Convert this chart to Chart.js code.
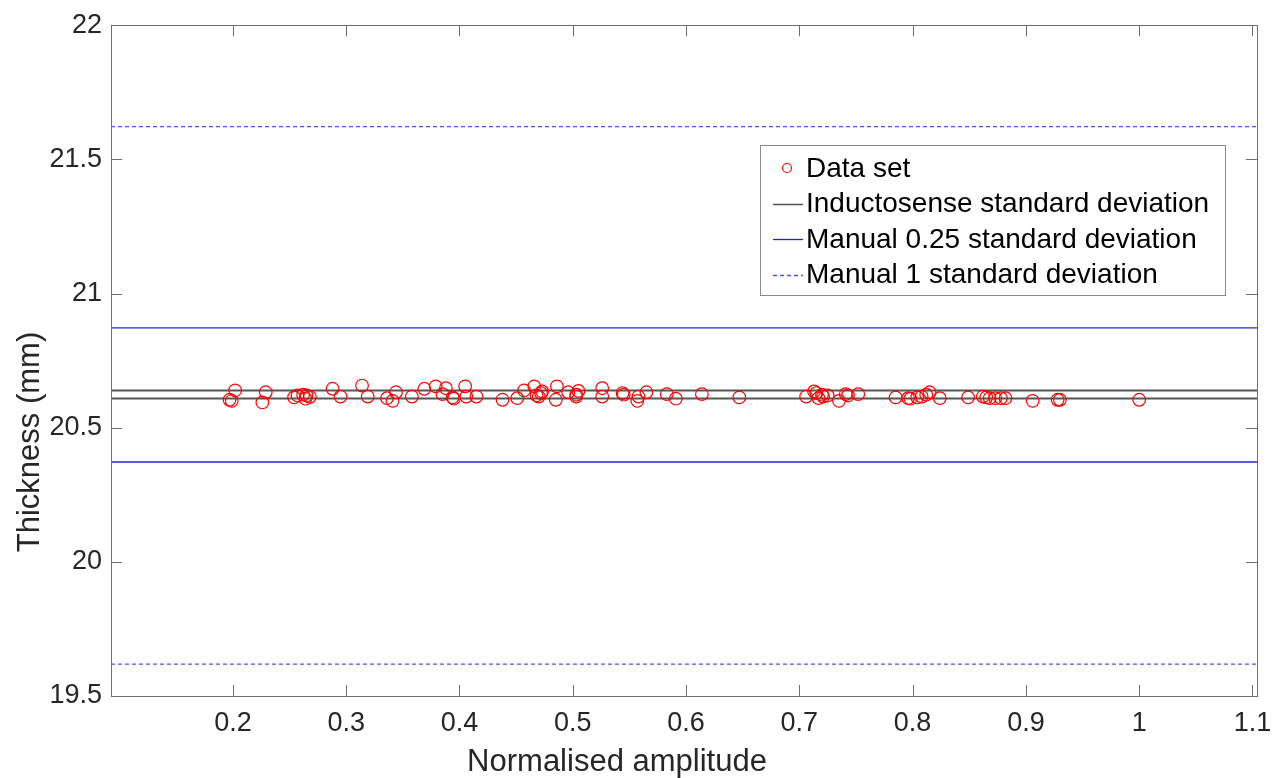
<!DOCTYPE html>
<html>
<head>
<meta charset="utf-8">
<script src="https://cdn.jsdelivr.net/npm/chart.js@4/dist/chart.umd.min.js"></script>
<style>
  html, body { margin: 0; padding: 0; background: #ffffff; }
  #wrap { width: 1285px; height: 778px; }
</style>
</head>
<body>
<div id="wrap"><canvas id="c" width="1285" height="778"></canvas></div>
<script>
// ---------------- data ----------------
const xTicks = [0.2, 0.3, 0.4, 0.5, 0.6, 0.7, 0.8, 0.9, 1.0, 1.1];
const xTickLabels = ['0.2', '0.3', '0.4', '0.5', '0.6', '0.7', '0.8', '0.9', '1', '1.1'];
const yTicks = [19.5, 20, 20.5, 21, 21.5, 22];
const yTickLabels = ['19.5', '20', '20.5', '21', '21.5', '22'];
const xLimits = [0.0924, 1.104];
const yLimits = [19.5, 22];
const xTitle = 'Normalised amplitude';
const yTitle = 'Thickness (mm)';

const amplitude = [
  0.197, 0.199, 0.202, 0.229, 0.226, 0.254, 0.257, 0.262, 0.265, 0.264,
  0.268, 0.288, 0.295, 0.314, 0.319, 0.336, 0.341, 0.344, 0.358, 0.369,
  0.379, 0.385, 0.388, 0.394, 0.395, 0.405, 0.406, 0.415, 0.438, 0.451,
  0.457, 0.466, 0.468, 0.470, 0.472, 0.473, 0.486, 0.485, 0.496, 0.503,
  0.503, 0.505, 0.526, 0.526, 0.544, 0.545, 0.558, 0.557, 0.565, 0.583,
  0.591, 0.614, 0.647, 0.706, 0.713, 0.715, 0.717, 0.720, 0.721, 0.725,
  0.735, 0.741, 0.743, 0.752, 0.785, 0.796, 0.798, 0.804, 0.808, 0.812,
  0.815, 0.824, 0.849, 0.862, 0.865, 0.868, 0.873, 0.878, 0.882, 0.906,
  0.928, 0.930, 1.000
];
const thickness = [
  20.604, 20.600, 20.639, 20.632, 20.594, 20.613, 20.620, 20.623, 20.620, 20.608,
  20.615, 20.645, 20.616, 20.657, 20.616, 20.610, 20.600, 20.632, 20.616, 20.645,
  20.654, 20.625, 20.647, 20.613, 20.608, 20.654, 20.616, 20.616, 20.604, 20.610,
  20.639, 20.654, 20.620, 20.616, 20.629, 20.635, 20.654, 20.604, 20.632, 20.623,
  20.616, 20.637, 20.647, 20.616, 20.629, 20.623, 20.616, 20.600, 20.632, 20.625,
  20.608, 20.625, 20.613, 20.616, 20.635, 20.629, 20.610, 20.623, 20.616, 20.620,
  20.600, 20.625, 20.620, 20.625, 20.613, 20.610, 20.608, 20.613, 20.616, 20.623,
  20.632, 20.610, 20.613, 20.616, 20.613, 20.610, 20.610, 20.610, 20.610, 20.600,
  20.604, 20.604, 20.604
];
const inductosenseLines = [20.639, 20.609];
const manualQuarterLines = [20.872, 20.372];
const manualOneLines = [21.622, 19.619];

const seriesNames = [
  'Data set',
  'Inductosense standard deviation',
  'Manual 0.25 standard deviation',
  'Manual 1 standard deviation'
];

// ---------------- styles ----------------
const FONT = "'Liberation Sans', Arial, Helvetica, sans-serif";
const TEXT = '#262626';
const RED = '#ff0000';
const GREY = '#555555';
const BLUE = '#2424d4';
const DASHBLUE = '#5050ee';

function hLine(v, label, color, width, dash, showInLegend) {
  return {
    type: 'line',
    label: label,
    data: [{ x: xLimits[0], y: v }, { x: xLimits[1], y: v }],
    borderColor: color,
    backgroundColor: color,
    borderWidth: width,
    borderDash: dash,
    pointRadius: 0,
    showLine: true,
    fill: false,
    legendShow: showInLegend
  };
}

const datasets = [
  {
    type: 'scatter',
    label: seriesNames[0],
    data: amplitude.map((a, i) => ({ x: a, y: thickness[i] })),
    pointStyle: 'circle',
    pointRadius: 6.3,
    pointBorderWidth: 1.2,
    borderColor: RED,
    backgroundColor: 'rgba(0,0,0,0)',
    legendShow: true
  },
  ...inductosenseLines.map((v, i) => hLine(v, seriesNames[1], GREY, 2, [], i === 0)),
  ...manualQuarterLines.map((v, i) => hLine(v, seriesNames[2], BLUE, 1.3, [], i === 0)),
  ...manualOneLines.map((v, i) => hLine(v, seriesNames[3], DASHBLUE, 1.3, [4, 3], i === 0))
];

// box + inward ticks
const boxTicksPlugin = {
  id: 'boxTicks',
  afterDatasetsDraw(chart) {
    const { ctx, chartArea: a, scales } = chart;
    const tl = 11;
    ctx.save();
    ctx.strokeStyle = '#6e6e6e';
    ctx.lineWidth = 1;
    ctx.beginPath();
    xTicks.forEach(v => {
      const px = Math.round(scales.x.getPixelForValue(v)) + 0.5;
      ctx.moveTo(px, a.bottom); ctx.lineTo(px, a.bottom - tl);
      ctx.moveTo(px, a.top); ctx.lineTo(px, a.top + tl);
    });
    yTicks.forEach(v => {
      const py = Math.round(scales.y.getPixelForValue(v)) + 0.5;
      ctx.moveTo(a.left, py); ctx.lineTo(a.left + tl, py);
      ctx.moveTo(a.right, py); ctx.lineTo(a.right - tl, py);
    });
    ctx.stroke();
    ctx.strokeRect(Math.round(a.left) + 0.5, Math.round(a.top) + 0.5,
      Math.round(a.right - a.left), Math.round(a.bottom - a.top));
    ctx.restore();
  }
};

// axis titles placed as in the reference
const titlesPlugin = {
  id: 'axisTitles',
  afterDraw(chart) {
    const { ctx } = chart;
    ctx.save();
    ctx.fillStyle = TEXT;
    ctx.font = '31px ' + FONT;
    ctx.textAlign = 'center';
    ctx.textBaseline = 'middle';
    ctx.fillText(xTitle, 617, 762);
    ctx.translate(30, 442);
    ctx.rotate(-Math.PI / 2);
    ctx.fillText(yTitle, 0, 0);
    ctx.restore();
  }
};

// MATLAB-style legend inside plot
const legendPlugin = {
  id: 'innerLegend',
  afterDraw(chart) {
    const { ctx } = chart;
    const items = chart.data.datasets.filter(d => d.legendShow);
    const bx = 760, by = 145, bw = 465, bh = 150;
    ctx.save();
    ctx.fillStyle = '#ffffff';
    ctx.fillRect(bx, by, bw, bh);
    ctx.strokeStyle = '#8a8a8a';
    ctx.lineWidth = 1;
    ctx.strokeRect(bx + 0.5, by + 0.5, bw, bh);
    ctx.font = '28px ' + FONT;
    ctx.textBaseline = 'middle';
    ctx.fillStyle = '#000000';
    items.forEach((d, i) => {
      const cy = 168 + i * 35.5;
      if (d.type === 'scatter') {
        ctx.beginPath();
        ctx.strokeStyle = d.borderColor;
        ctx.lineWidth = 1.2;
        ctx.arc(787, cy, 4.5, 0, Math.PI * 2);
        ctx.stroke();
      } else {
        ctx.beginPath();
        ctx.strokeStyle = d.borderColor;
        ctx.lineWidth = d.borderWidth > 1.5 ? 1.5 : d.borderWidth;
        ctx.setLineDash(d.borderDash || []);
        ctx.moveTo(773, Math.round(cy) + 0.5);
        ctx.lineTo(803, Math.round(cy) + 0.5);
        ctx.stroke();
        ctx.setLineDash([]);
      }
      ctx.fillStyle = '#000000';
      ctx.fillText(d.label, 806, cy + 1);
    });
    ctx.restore();
  }
};

new Chart(document.getElementById('c'), {
  data: { datasets },
  options: {
    responsive: false,
    animation: false,
    devicePixelRatio: 1,
    layout: { padding: { left: 0, top: 19, right: 28, bottom: 0 } },
    plugins: {
      legend: { display: false },
      tooltip: { enabled: false }
    },
    scales: {
      x: {
        type: 'linear',
        min: xLimits[0],
        max: xLimits[1],
        grid: { display: false, drawTicks: false },
        border: { display: false },
        afterBuildTicks: s => { s.ticks = xTicks.map(v => ({ value: v })); },
        afterFit: s => { s.height = 82; },
        ticks: {
          autoSkip: false,
          maxRotation: 0,
          padding: 11,
          color: TEXT,
          font: { family: FONT, size: 27 },
          callback: (v, i) => xTickLabels[i]
        },
        title: { display: false }
      },
      y: {
        type: 'linear',
        min: yLimits[0],
        max: yLimits[1],
        grid: { display: false, drawTicks: false },
        border: { display: false },
        afterBuildTicks: s => { s.ticks = yTicks.map(v => ({ value: v })); },
        afterFit: s => { s.width = 111; },
        ticks: {
          autoSkip: false,
          padding: 9,
          color: TEXT,
          font: { family: FONT, size: 27 },
          callback: (v, i) => yTickLabels[i]
        },
        title: { display: false }
      }
    }
  },
  plugins: [boxTicksPlugin, legendPlugin, titlesPlugin]
});
</script>
</body>
</html>
